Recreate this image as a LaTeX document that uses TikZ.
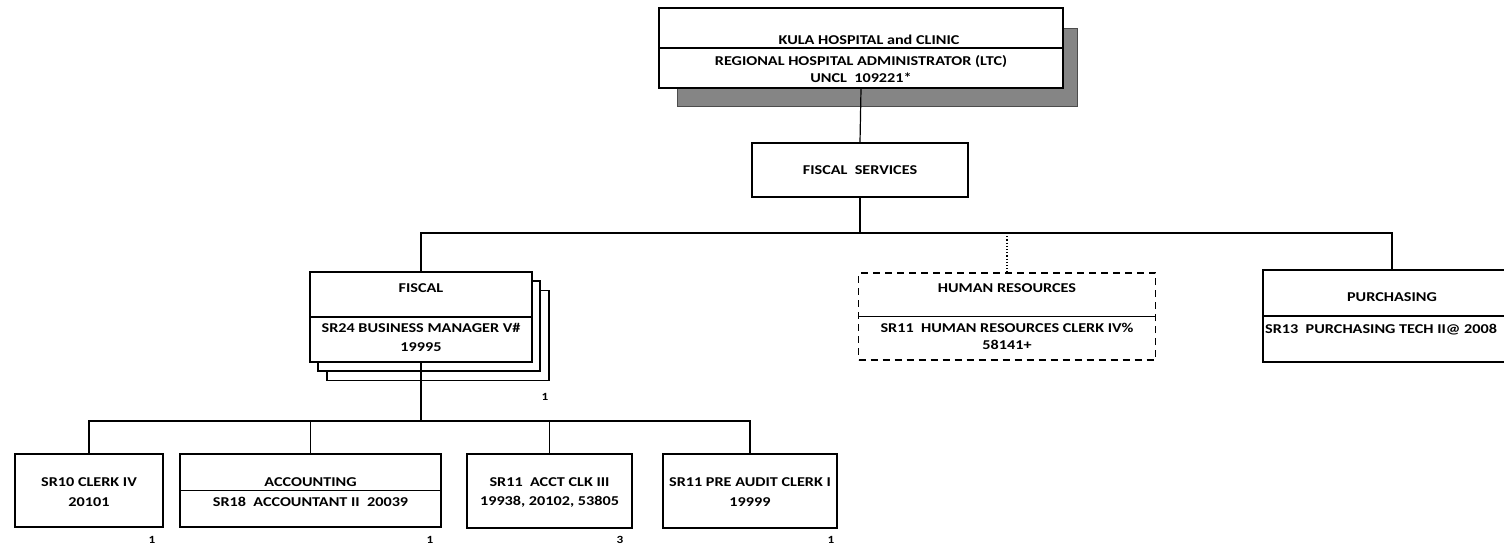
\documentclass[tikz,border=0pt]{standalone}
\usepackage{fontspec}
\setmainfont{Carlito}
\newfontfamily\orgfont{Carlito}[FakeStretch=1.2]
\usepackage{tikz}
\usetikzlibrary{calc}
\usepackage{xcolor}
\definecolor{shgray}{HTML}{858585}
\tikzset{
  unit/.style={draw=black, line width=1.2pt, fill=white, inner sep=0pt},
  shadowbox/.style={draw=black!70, line width=1pt, fill=shgray, inner sep=0pt},
  vacant/.style={unit, dash pattern=on 7pt off 5pt},
  link/.style={line width=1.2pt, draw=black},
  lbl/.style={font=\orgfont\bfseries\fontsize{13.5}{15}\selectfont, inner sep=0pt},
  count/.style={font=\orgfont\bfseries\fontsize{11}{12}\selectfont, inner sep=0pt},
}

\begin{document}
\begin{tikzpicture}[x=1pt, y=-1pt]
  \useasboundingbox (0,0) rectangle (1504,547);
  \clip (0,0) rectangle (1504,547);
  % top unit with shadow
  \node[shadowbox, minimum width=400pt, minimum height=78pt] (kulash) at (877,67) {};
  \node[unit, minimum width=404pt, minimum height=80pt] (kula) at (861,48) {};
  \draw[link] (kula.west) -- (kula.east);
  \node[lbl] (kula1) at (869,40) {KULA HOSPITAL and CLINIC};
  \node[lbl] (kula2) at (861,62) {REGIONAL HOSPITAL ADMINISTRATOR (LTC)};
  \node[lbl] (kula3) at (861,78) {UNCL\ \ 109221*};
  % fiscal services
  \node[unit, minimum width=216pt, minimum height=54pt] (fserv) at (860,170) {};
  \node[lbl] (fserv1) at (860,170) {FISCAL\ \ SERVICES};
  \draw[link] (kula.south) -- (fserv.north);
  % second level
  \coordinate (bus) at (0,233);
  \node[unit, minimum width=222pt, minimum height=90pt] (fisc3) at (438,335.5) {};
  \node[unit, minimum width=222pt, minimum height=90pt] (fisc2) at (429,326) {};
  \node[unit, minimum width=222pt, minimum height=90pt] (fisc) at (421,317) {};
  \draw[link] (fisc.west) -- (fisc.east);
  \node[lbl] (fisc1) at (421,288) {FISCAL};
  \node[lbl] (fiscb) at (421,328) {SR24 BUSINESS MANAGER V\#};
  \node[lbl] (fiscc) at (421,347) {19995};
  \node[count] (fiscn) at (545,397) {1};
  \node[vacant, minimum width=297pt, minimum height=87pt] (hr) at (1007,316.5) {};
  \draw[link] (hr.west) -- (hr.east);
  \node[lbl] (hr1) at (1007,288) {HUMAN RESOURCES};
  \node[lbl] (hrb) at (1007,328) {SR11\ \ HUMAN RESOURCES CLERK IV\%};
  \node[lbl] (hrc) at (1007,345) {58141+};
  \node[unit, minimum width=258pt, minimum height=92pt] (purch) at (1392,316) {};
  \draw[link] (purch.west) -- (purch.east);
  \node[lbl] (purch1) at (1392,297) {PURCHASING};
  \node[lbl, anchor=west] (purchb) at (1265,330) {SR13\ \ PURCHASING TECH II@ 2008};
  \draw[link] (fserv.south) -- (fserv.south |- bus);
  \draw[link] (fisc.north) -- (fisc.north |- bus) -- (purch.north |- bus) -- (purch.north);
  \draw[line width=1.2pt, dotted] (hr.north |- bus) -- (hr.north);
  % third level
  \coordinate (bus2) at (0,421);
  \node[unit, minimum width=148pt, minimum height=73pt] (clk) at (89,490.5) {};
  \node[lbl] (clk1) at (89,482) {SR10 CLERK IV};
  \node[lbl] (clk2) at (89,502) {20101};
  \node[count] (clkn) at (152,540) {1};
  \node[unit, minimum width=261pt, minimum height=73pt] (acct) at (310.5,490.5) {};
  \draw[link] (acct.west) -- (acct.east);
  \node[lbl] (acct1) at (310.5,482) {ACCOUNTING};
  \node[lbl] (acct2) at (310.5,502) {SR18\ \ ACCOUNTANT II\ \ 20039};
  \node[count] (acctn) at (430,540) {1};
  \node[unit, minimum width=165pt, minimum height=74pt] (aclk) at (549.5,491) {};
  \node[lbl] (aclk1) at (549.5,482) {SR11\ \ ACCT CLK III};
  \node[lbl] (aclk2) at (549.5,502) {19938, 20102, 53805};
  \node[count] (aclkn) at (620,540) {3};
  \node[unit, minimum width=174pt, minimum height=74pt] (audit) at (750,491) {};
  \node[lbl] (audit1) at (750,482) {SR11 PRE AUDIT CLERK I};
  \node[lbl] (audit2) at (750,502) {19999};
  \node[count] (auditn) at (831,540) {1};
  \draw[link] (fisc.south) -- (fisc.south |- bus2);
  \draw[link] (clk.north) -- (clk.north |- bus2) -- (audit.north |- bus2) -- (audit.north);
  \draw[link] (acct.north) -- (acct.north |- bus2);
  \draw[link] (aclk.north) -- (aclk.north |- bus2);
\end{tikzpicture}
\end{document}
